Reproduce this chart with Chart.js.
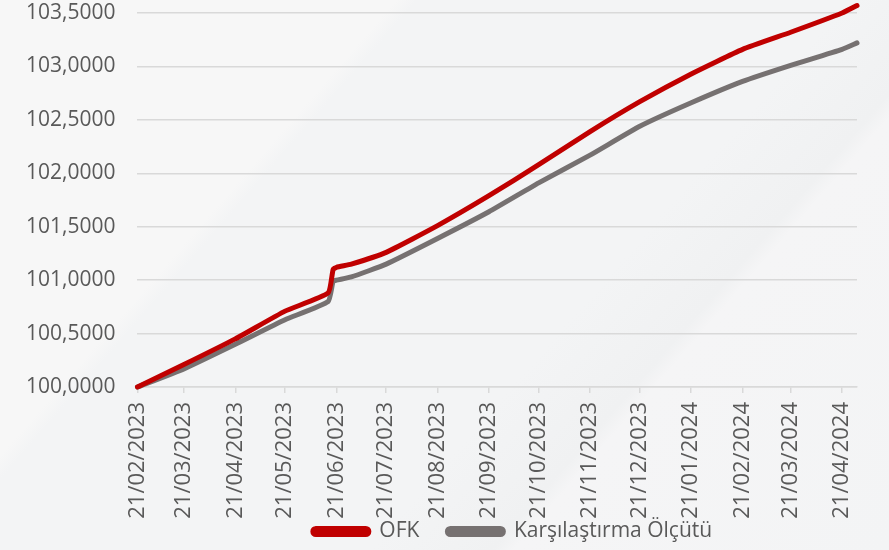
<!DOCTYPE html>
<html>
<head>
<meta charset="utf-8">
<script src="https://cdn.jsdelivr.net/npm/chart.js@4/dist/chart.umd.min.js"></script>
<style>
  html, body {
    margin: 0;
    padding: 0;
  }
  body {
    width: 889px;
    height: 550px;
    overflow: hidden;
    background:
      linear-gradient(131deg, #f7f7f7 0%, #f7f7f7 29%, #f3f4f5 30.5%, #f3f4f5 62%, #f0f1f2 71%, #f5f5f6 72.5%, #f3f4f5 100%);
  }
  #wrap {
    position: relative;
    width: 889px;
    height: 550px;
  }
</style>
</head>
<body>
<div id="wrap"><canvas id="chart"></canvas></div>
<script>
// dates of the read points (dd/mm/yyyy)
const dates = [
  "21/02/2023", "21/03/2023", "21/04/2023", "21/05/2023", "16/06/2023",
  "19/06/2023", "21/06/2023", "30/06/2023", "21/07/2023", "21/08/2023",
  "21/09/2023", "21/10/2023", "21/11/2023", "21/12/2023", "21/01/2024",
  "21/02/2024", "21/03/2024", "21/04/2024", "30/04/2024"
];

// OFK
const ofkValues = [
  100.00, 100.21, 100.45, 100.71, 100.88,
  101.10, 101.12, 101.15, 101.26, 101.51,
  101.79, 102.08, 102.39, 102.67, 102.93,
  103.16, 103.32, 103.50, 103.57
];

// Karşılaştırma Ölçütü
const benchmarkValues = [
  100.00, 100.17, 100.40, 100.63, 100.80,
  100.99, 101.00, 101.03, 101.15, 101.39,
  101.64, 101.91, 102.17, 102.44, 102.66,
  102.86, 103.01, 103.16, 103.22
];

// x axis tick labels
const tickLabels = [
  "21/02/2023", "21/03/2023", "21/04/2023", "21/05/2023", "21/06/2023",
  "21/07/2023", "21/08/2023", "21/09/2023", "21/10/2023", "21/11/2023",
  "21/12/2023", "21/01/2024", "21/02/2024", "21/03/2024", "21/04/2024"
];

const seriesNames = ["OFK", "Karşılaştırma Ölçütü"];

// =============================================================================
// helpers
// =============================================================================

function toDay(str) {
  const [d, m, y] = str.split("/").map(Number);
  return Date.UTC(y, m - 1, d) / 86400000;
}

const day0 = toDay(dates[0]);
const dayOf = (str) => toDay(str) - day0;
const tickDays = tickLabels.map(dayOf);

function points(values) {
  return values.map((v, i) => ({ x: dayOf(dates[i]), y: v }));
}

const FONT = { family: "'Open Sans', sans-serif", size: 21 };
const X_FONT = { family: "'Open Sans', sans-serif", size: 22 };
const TEXT_COLOR = "#595959";

const LEGEND_HEIGHT = 31;

// keep the legend box short and shift it a little right / down, as in the original
const legendShift = {
  id: "legendShift",
  beforeLayout(chart) {
    const lg = chart.legend;
    if (!lg || lg._patched) return;
    const fit = lg.fit;
    lg.fit = function () {
      fit.call(this);
      this.height = LEGEND_HEIGHT;
    };
    lg._patched = true;
  },
  afterLayout(chart) {
    const lg = chart.legend;
    if (!lg) return;
    lg.left += 82;
    lg.right += 82;
    lg.top = 493;
    lg.bottom = 550;
  },
};

new Chart(document.getElementById("chart"), {
  type: "line",
  data: {
    datasets: [
      {
        label: seriesNames[0],
        data: points(ofkValues),
        borderColor: "#c00000",
        backgroundColor: "#c00000",
        borderWidth: 5,
        borderCapStyle: "round",
        borderJoinStyle: "round",
        pointRadius: 0,
        tension: 0.15,
        clip: false,
      },
      {
        label: seriesNames[1],
        data: points(benchmarkValues),
        borderColor: "#767171",
        backgroundColor: "#767171",
        borderWidth: 5,
        borderCapStyle: "round",
        borderJoinStyle: "round",
        pointRadius: 0,
        tension: 0.15,
        clip: false,
      },
    ],
  },
  plugins: [legendShift],
  options: {
    responsive: true,
    maintainAspectRatio: false,
    animation: false,
    layout: {
      padding: { top: 0, right: 32, bottom: 0, left: 4 },
    },
    plugins: {
      tooltip: { enabled: false },
      legend: {
        position: "bottom",
        labels: {
          font: FONT,
          color: TEXT_COLOR,
          boxWidth: 56,
          boxHeight: 6,
          useBorderRadius: true,
          borderRadius: 3,
          padding: 28,
        },
      },
    },
    scales: {
      x: {
        type: "linear",
        min: 0,
        max: dayOf(dates[dates.length - 1]),
        afterBuildTicks: (axis) => {
          axis.ticks = tickDays.map((v) => ({ value: v }));
        },
        afterFit: (axis) => {
          axis.height = 132;
        },
        ticks: {
          font: X_FONT,
          color: TEXT_COLOR,
          minRotation: 90,
          maxRotation: 90,
          autoSkip: false,
          padding: 9,
          callback: (value) => tickLabels[tickDays.indexOf(value)] || "",
        },
        grid: {
          drawOnChartArea: false,
          drawTicks: true,
          tickLength: 6,
          color: "#d9d9d9",
          lineWidth: 1.5,
        },
        border: { color: "#d9d9d9", width: 1.5 },
      },
      y: {
        min: 100,
        max: 103.5,
        afterFit: (axis) => {
          axis.paddingTop = 13;
          axis.paddingBottom = 13;
        },
        ticks: {
          stepSize: 0.5,
          font: FONT,
          color: TEXT_COLOR,
          padding: 22,
          callback: (value) => value.toFixed(4).replace(".", ","),
        },
        grid: {
          drawTicks: false,
          color: "#d9d9d9",
          lineWidth: 1.5,
        },
        border: { display: false },
      },
    },
  },
});
</script>
</body>
</html>
